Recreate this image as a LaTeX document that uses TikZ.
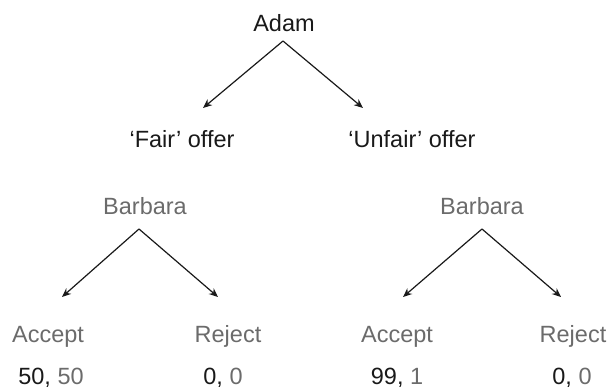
\documentclass[tikz,border=0pt]{standalone}
\usepackage{fontspec}
\setmainfont{Liberation Sans}
\usetikzlibrary{arrows.meta}
\definecolor{bGray}{gray}{0.42}
\definecolor{aBlack}{gray}{0.1}
\tikzstyle{gLabel} = [anchor=base, inner sep=0pt, font=\fontsize{23.5}{28}\selectfont]
\tikzstyle{gAdam} = [gLabel, text=aBlack]
\tikzstyle{gBarbara} = [gLabel, text=bGray]
\tikzstyle{gArrow} = [line width=1.2pt, -{Stealth[length=9pt,width=7.5pt]}, draw=aBlack]
\begin{document}
\begin{tikzpicture}[x=1pt, y=-1pt]
    \useasboundingbox (0,0) rectangle (608,390);
    \node (adam) [gAdam] at (284,32) {Adam};
    \node (fair) [gAdam] at (182,148) {`Fair' offer};
    \node (unfair) [gAdam] at (412,148) {`Unfair' offer};
    \node (barbaraL) [gBarbara] at (145,215) {Barbara};
    \node (barbaraR) [gBarbara] at (482,215) {Barbara};
    \node (acceptL) [gBarbara] at (48,342) {Accept};
    \node (rejectL) [gBarbara] at (228,342) {Reject};
    \node (acceptR) [gBarbara] at (397,342) {Accept};
    \node (rejectR) [gBarbara] at (573,342) {Reject};
    \node (payAL) [gAdam] at (51,384) {50, \textcolor{bGray}{50}};
    \node (payRL) [gAdam] at (223,384) {0, \textcolor{bGray}{0}};
    \node (payAR) [gAdam] at (397,384) {99, \textcolor{bGray}{1}};
    \node (payRR) [gAdam] at (572,384) {0, \textcolor{bGray}{0}};

    \coordinate (adamTop) at (283,41);
    \coordinate (toFair) at (203,108);
    \coordinate (toUnfair) at (363,108);
    \coordinate (barbaraLTop) at (139,229);
    \coordinate (toAcceptL) at (62,297);
    \coordinate (toRejectL) at (218,297);
    \coordinate (barbaraRTop) at (482,229);
    \coordinate (toAcceptR) at (403,297);
    \coordinate (toRejectR) at (561,297);

    \draw [gArrow] (adamTop) -- (toFair);
    \draw [gArrow] (adamTop) -- (toUnfair);
    \draw [gArrow] (barbaraLTop) -- (toAcceptL);
    \draw [gArrow] (barbaraLTop) -- (toRejectL);
    \draw [gArrow] (barbaraRTop) -- (toAcceptR);
    \draw [gArrow] (barbaraRTop) -- (toRejectR);
\end{tikzpicture}
\end{document}
